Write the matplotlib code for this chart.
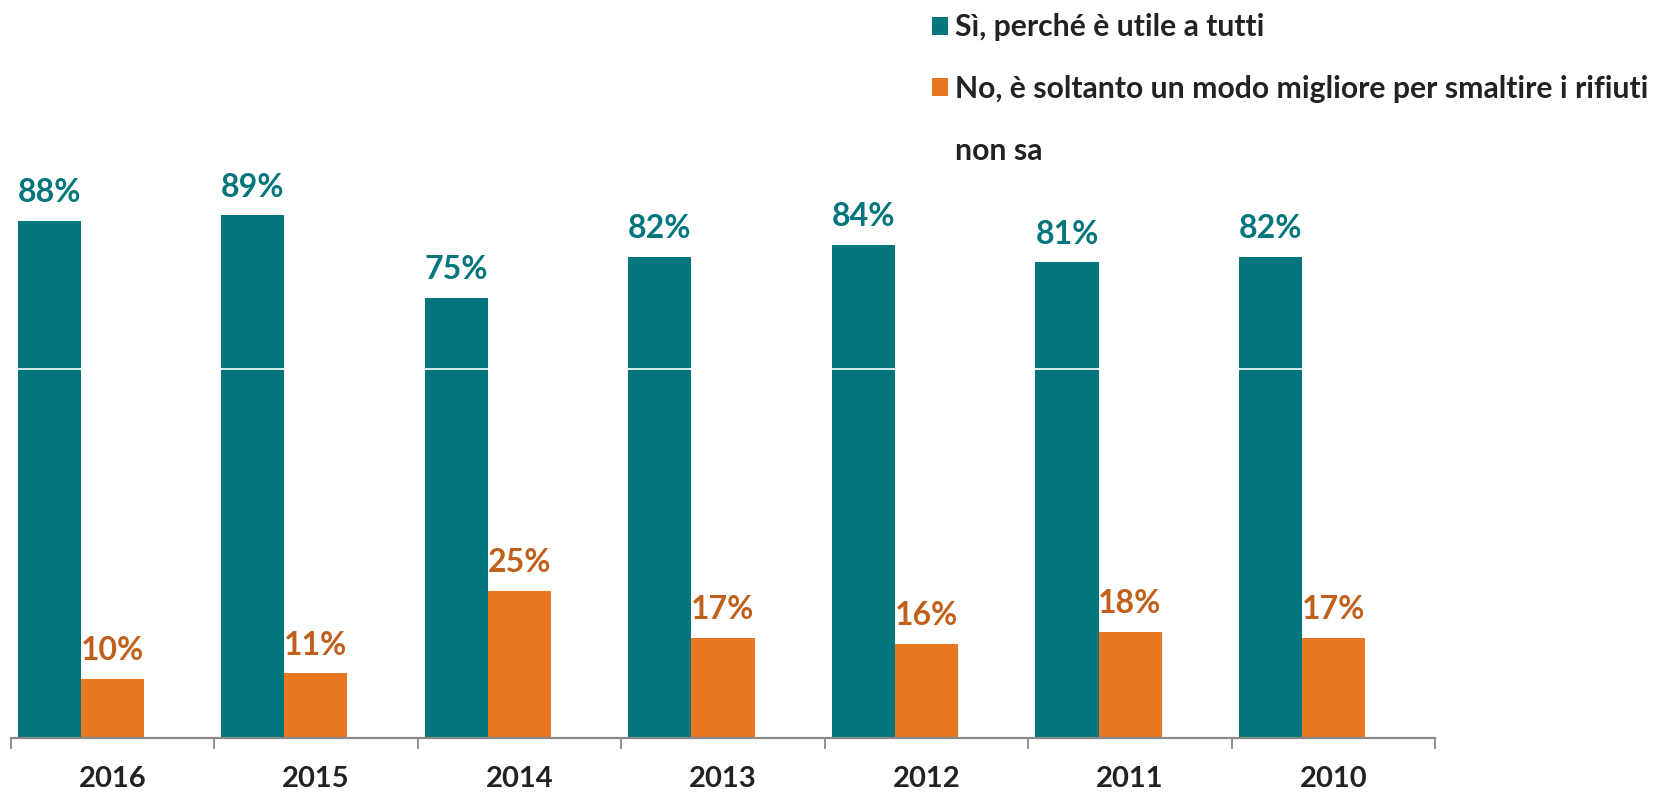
import matplotlib
matplotlib.use("Agg")
import matplotlib.pyplot as plt
import numpy as np

plt.rcParams['font.family'] = ['Lato', 'DejaVu Sans']
plt.rcParams['font.weight'] = 'bold'

# data
years = ['2016', '2015', '2014', '2013', '2012', '2011', '2010']
si = [88, 89, 75, 82, 84, 81, 82]
no = [10, 11, 25, 17, 16, 18, 17]
non_sa = [0, 0, 0, 0, 0, 0, 0]
labels = ['Sì, perché è utile a tutti',
          'No, è soltanto un modo migliore per smaltire i rifiuti',
          'non sa']

teal = '#03757C'
orange = '#E87722'
orange_txt = '#C0601A'

fig = plt.figure(figsize=(16.54, 7.94), dpi=100)
ax = fig.add_axes([0.00635, 0.0705, 0.8615, 0.9295])

x = np.arange(len(years))
w = 0.31
b1 = ax.bar(x - w, si, w, color=teal, label=labels[0], zorder=2)
b2 = ax.bar(x, no, w, color=orange, label=labels[1], zorder=2)
b3 = ax.bar(x + w, non_sa, w, color='none', label=labels[2], zorder=2)

# thin white line crossing the bars
ax.axhline(62.9, color='white', lw=1.2, zorder=3)

for xi, v in zip(x - w, si):
    ax.annotate(f'{v}%', (xi, v), xytext=(0, 10), textcoords='offset points',
                ha='center', va='bottom', color=teal, fontsize=23, fontweight='bold')
for xi, v in zip(x, no):
    ax.annotate(f'{v}%', (xi, v), xytext=(0, 10), textcoords='offset points',
                ha='center', va='bottom', color=orange_txt, fontsize=23, fontweight='bold')

ax.set_xlim(-0.5, len(years) - 0.5)
ax.set_ylim(0, 125.7)
ax.set_xticks(x)
ax.set_xticklabels(years, fontsize=21, fontweight='bold', color='#222222')
ax.set_xticks(np.arange(len(years) + 1) - 0.5, minor=True)
ax.tick_params(axis='x', which='major', length=0, pad=20)
ax.tick_params(axis='x', which='minor', length=8, width=1.3, color='#898989')
ax.set_yticks([])
for s in ['top', 'right', 'left']:
    ax.spines[s].set_visible(False)
ax.spines['bottom'].set_color('#898989')
ax.spines['bottom'].set_linewidth(1.6)

leg = fig.legend(handles=[b1, b2, b3], loc='upper left', bbox_to_anchor=(0.556, 0.9985),
                 frameon=False, fontsize=21.7, handlelength=0.55, handleheight=0.55,
                 handletextpad=0.22, labelspacing=1.12, borderaxespad=0)
for t in leg.get_texts():
    t.set_color('#222222')
    t.set_fontweight('bold')

fig.savefig('out.png', dpi=100)
